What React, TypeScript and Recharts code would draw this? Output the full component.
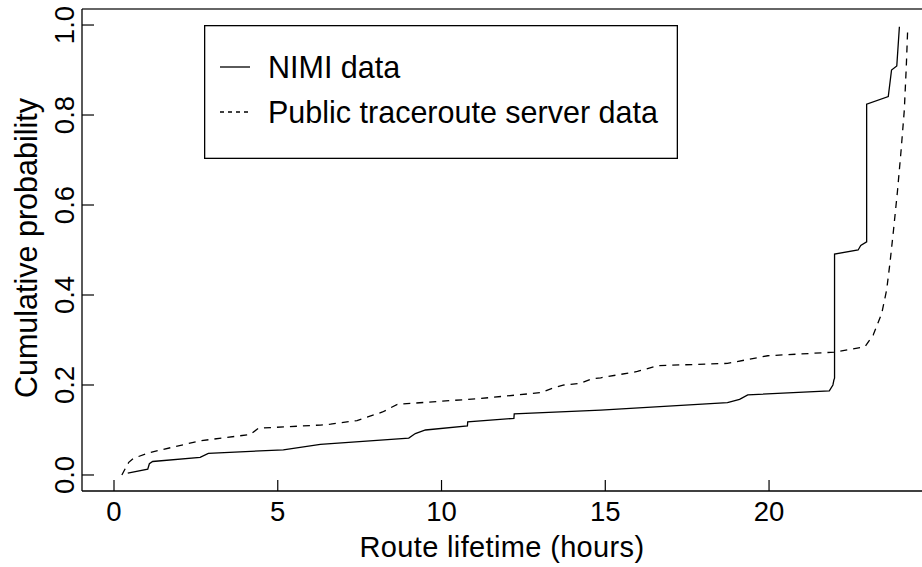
import { LineChart, Line, XAxis, YAxis, ReferenceLine, Legend } from "recharts";

// Route lifetime CDFs: hours vs cumulative probability
const nimiHours = [
  0.42, 1.03, 1.08, 1.18, 2.63, 2.88, 5.17, 6.3, 9.0, 9.2, 9.51, 10.79, 10.8,
  12.21, 12.22, 14.86, 18.73, 19.1, 19.35, 21.84, 21.95, 21.98, 22.0, 22.0,
  22.72, 22.8, 22.98, 22.98, 23.64, 23.74, 23.9, 23.98,
];
const nimiProb = [
  0.004, 0.013, 0.025, 0.03, 0.039, 0.048, 0.056, 0.068, 0.082, 0.092, 0.1,
  0.109, 0.118, 0.126, 0.136, 0.144, 0.161, 0.168, 0.178, 0.187, 0.2, 0.211,
  0.215, 0.491, 0.5, 0.51, 0.518, 0.824, 0.841, 0.9, 0.909, 0.996,
];

const publicHours = [
  0.24, 0.35, 0.45, 0.59, 1.1, 2.63, 4.16, 4.41, 6.3, 6.61, 7.42, 8.2, 8.65,
  11.19, 13.03, 13.4, 13.74, 14.25, 14.56, 14.86, 15.98, 16.6, 18.73, 19.96,
  21.99, 22.93, 23.18, 23.44, 23.59, 23.69, 23.8, 23.92, 24.03, 24.13, 24.19,
  24.23,
];
const publicProb = [
  0.0, 0.015, 0.028, 0.037, 0.05, 0.076, 0.09, 0.104, 0.111, 0.113, 0.121,
  0.14, 0.157, 0.17, 0.183, 0.193, 0.2, 0.204, 0.213, 0.216, 0.23, 0.243,
  0.248, 0.265, 0.273, 0.285, 0.311, 0.359, 0.411, 0.47, 0.544, 0.63, 0.72,
  0.811, 0.907, 0.985,
];

const xTicks = [0, 5, 10, 15, 20];
const yTicks = [0, 0.2, 0.4, 0.6, 0.8, 1.0];
const seriesNames = ["NIMI data", "Public traceroute server data"];

const nimi = nimiHours.map((h, i) => ({ h, p: nimiProb[i] }));
const pub = publicHours.map((h, i) => ({ h, p: publicProb[i] }));

const FONT = "'Liberation Sans', Arial, Helvetica, sans-serif";
const TICK_SIZE = 27.5;
const LABEL_SIZE = 30.5;
const X_DOMAIN: [number, number] = [-0.977, 24.67];
const Y_DOMAIN: [number, number] = [-0.0356, 1.0356];

function YTick(props: any) {
  const { x, y, payload } = props;
  return (
    <g>
      <line x1={x} x2={x + 12} y1={y} y2={y} stroke="#000" strokeWidth={1.2} />
      <text
        x={x - 8}
        y={y}
        transform={`rotate(-90, ${x - 8}, ${y})`}
        textAnchor="middle"
        fontSize={TICK_SIZE}
        fontFamily={FONT}
        fill="#000"
      >
        {payload.value.toFixed(1)}
      </text>
    </g>
  );
}

function XTick(props: any) {
  const { x, y, payload } = props;
  return (
    <g>
      <line x1={x} x2={x} y1={y} y2={y - 11} stroke="#000" strokeWidth={1.2} />
      <text
        x={x}
        y={y + 30}
        textAnchor="middle"
        fontSize={TICK_SIZE}
        fontFamily={FONT}
        fill="#000"
      >
        {payload.value}
      </text>
    </g>
  );
}

function YTitle(props: any) {
  const { viewBox } = props;
  const x = viewBox.x + 37;
  const y = viewBox.y + viewBox.height / 2 - 2;
  return (
    <text
      x={x}
      y={y}
      transform={`rotate(-90, ${x}, ${y})`}
      textAnchor="middle"
      fontSize={LABEL_SIZE}
      fontFamily={FONT}
      fill="#000"
    >
      Cumulative probability
    </text>
  );
}

function XTitle(props: any) {
  const { viewBox } = props;
  return (
    <text
      x={viewBox.x + viewBox.width / 2}
      y={viewBox.y + 66}
      textAnchor="middle"
      fontSize={29}
      letterSpacing={0.35}
      fontFamily={FONT}
      fill="#000"
    >
      Route lifetime (hours)
    </text>
  );
}

// boxed legend, R style: short line sample then the series name
function LegendBox() {
  const dashes = [undefined, "4 4"];
  return (
    <svg width={474} height={134} style={{ display: "block" }}>
      <rect x={0.65} y={0.65} width={472.7} height={132.7} fill="#fff" stroke="#000" strokeWidth={1.3} />
      {seriesNames.map((name, i) => (
        <g key={name}>
          <line
            x1={16}
            x2={46}
            y1={42 + i * 45}
            y2={42 + i * 45}
            stroke="#000"
            strokeWidth={1.3}
            strokeDasharray={dashes[i]}
          />
          <text x={64} y={53 + i * 45} fontSize={LABEL_SIZE} fontFamily={FONT} fill="#000">
            {name}
          </text>
        </g>
      ))}
    </svg>
  );
}

export default function App() {
  return (
    <div style={{ width: 922, height: 567, background: "#fff" }}>
      <style>{`body{margin:0}`}</style>
      <LineChart
        width={922}
        height={567}
        margin={{ top: 9, right: 0, bottom: 0, left: 0 }}
      >
        <XAxis
          type="number"
          dataKey="h"
          domain={X_DOMAIN}
          ticks={xTicks}
          allowDataOverflow
          height={76}
          tickSize={0}
          tickMargin={0}
          tickLine={false}
          tick={<XTick />}
          axisLine={{ stroke: "#000", strokeWidth: 1.3 }}
          label={<XTitle />}
        />
        <YAxis
          type="number"
          dataKey="p"
          domain={Y_DOMAIN}
          ticks={yTicks}
          allowDataOverflow
          width={82}
          tickSize={0}
          tickMargin={0}
          tickLine={false}
          tick={<YTick />}
          axisLine={{ stroke: "#000", strokeWidth: 1.3 }}
          label={<YTitle />}
        />
        <ReferenceLine y={Y_DOMAIN[1]} stroke="#333" strokeWidth={1.3} />
        {/* middle/center keeps the legend from reserving plot space */}
        <Legend
          layout="horizontal"
          verticalAlign="middle"
          align="center"
          content={<LegendBox />}
          wrapperStyle={{ position: "absolute", left: 204, top: 25, width: 474, height: 134 }}
        />
        <Line
          data={nimi}
          dataKey="p"
          name={seriesNames[0]}
          type="linear"
          stroke="#000"
          strokeWidth={1.3}
          dot={false}
          isAnimationActive={false}
        />
        <Line
          data={pub}
          dataKey="p"
          name={seriesNames[1]}
          type="linear"
          stroke="#000"
          strokeWidth={1.3}
          strokeDasharray="7 6"
          dot={false}
          isAnimationActive={false}
        />
      </LineChart>
    </div>
  );
}
